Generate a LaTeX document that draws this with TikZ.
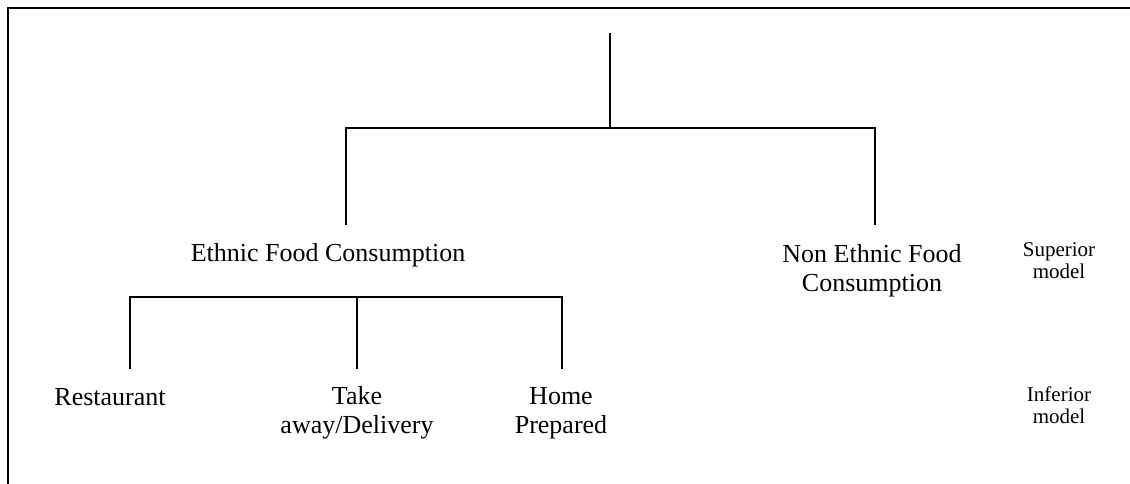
\documentclass[tikz,border=0pt]{standalone}
\usepackage{fontspec}
\setmainfont{Liberation Serif}
\begin{document}
\begin{tikzpicture}[x=1pt,y=-1pt,
  big/.style={font=\fontsize{26}{29}\selectfont, inner sep=0pt, anchor=base, align=center},
  small/.style={font=\fontsize{21}{21.5}\selectfont, inner sep=0pt, anchor=base, align=center},
  tree/.style={line width=1.4pt},
  frame/.style={line width=2pt}]
\useasboundingbox (0,0) rectangle (1130,484);
% frame (top and left only)
\draw[frame] (8,484) -- (8,8.5) -- (1130,8.5);
% nodes (base anchor = baseline of the last line)
\node[big] (eth) at (328,261) {Ethnic Food Consumption};
\node[big] (non) at (872,291) {Non Ethnic Food\\Consumption};
\node[small] (sup) at (1059,278) {Superior\\model};
\node[big] (res) at (110,405) {Restaurant};
\node[big] (take) at (357,433) {Take\\away/Delivery};
\node[big] (home) at (561,433) {Home\\Prepared};
\node[small] (inf) at (1059,423) {Inferior\\model};
% tree coordinates
\coordinate (root) at (610,33);
\coordinate (j1) at (610,128);
\coordinate (ethTop) at (346,225);
\coordinate (nonTop) at (875,225);
\coordinate (j2) at (357,297);
\coordinate (resTop) at (130,369);
\coordinate (takeTop) at (357,369);
\coordinate (homeTop) at (562,369);
% connectors
\draw[tree] (root) -- (j1);
\draw[tree] (ethTop) |- (j1) -| (nonTop);
\draw[tree] (resTop) |- (j2) -| (homeTop);
\draw[tree] (j2) -- (takeTop);
\end{tikzpicture}
\end{document}
